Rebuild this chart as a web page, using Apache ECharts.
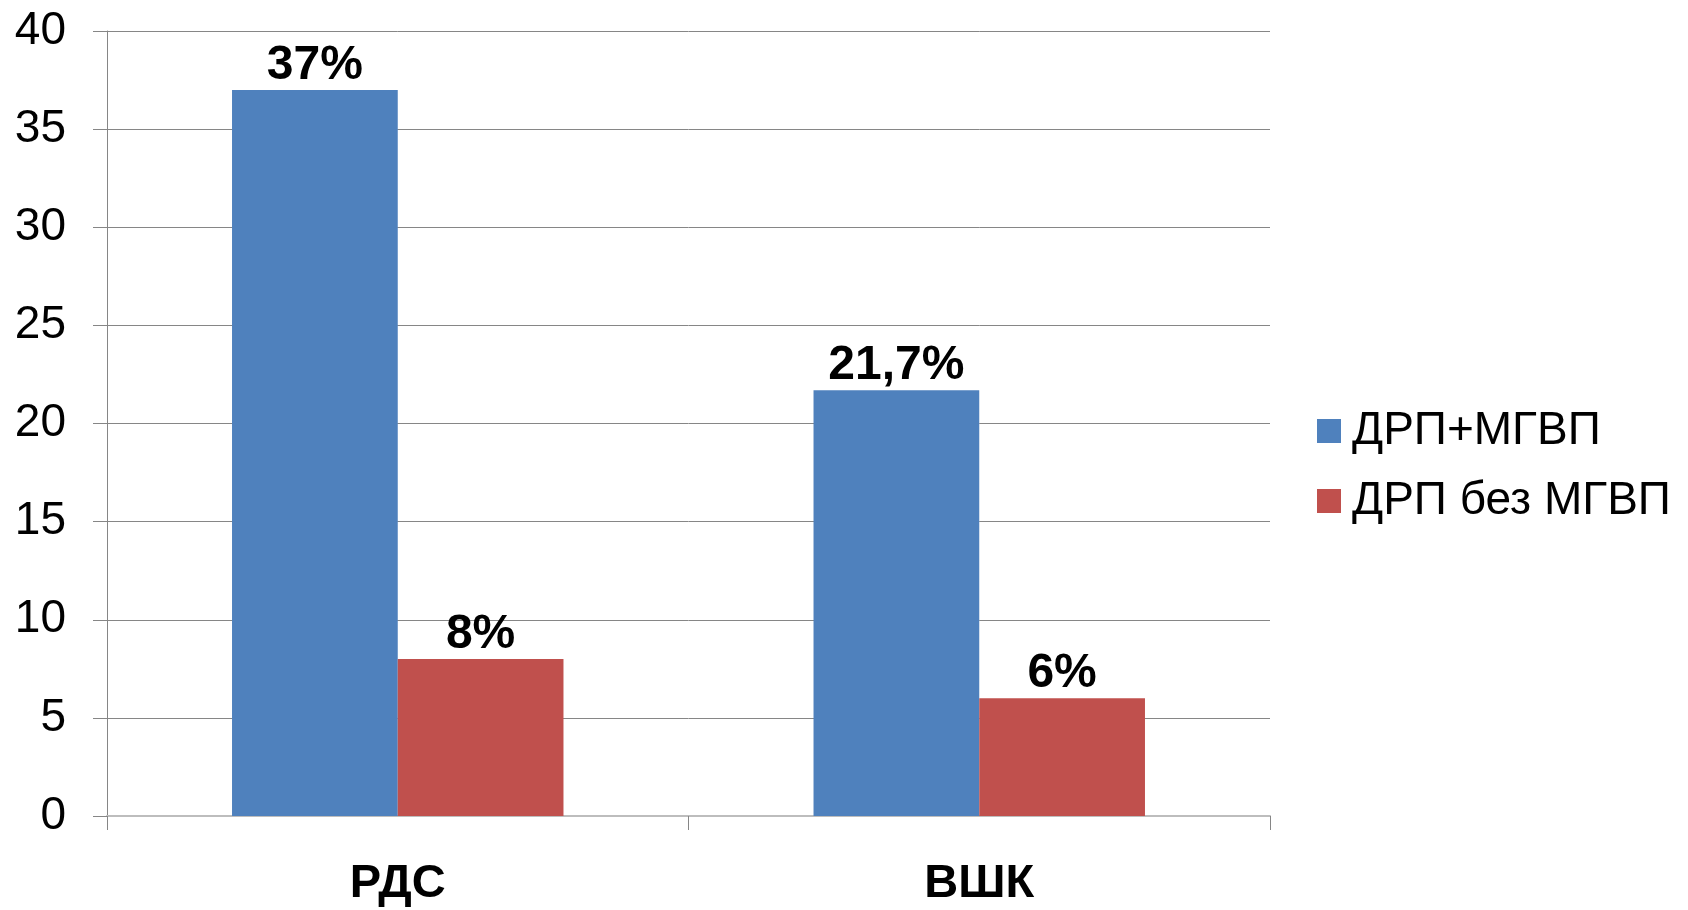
<!DOCTYPE html>
<html><head><meta charset="utf-8">
<script src="https://cdn.jsdelivr.net/npm/echarts@6/dist/echarts.min.js"></script>
<style>html,body{margin:0;padding:0;background:#fff;}#c{width:1688px;height:910px;}</style>
</head><body><div id="c"></div>
<script>
const categories = ['РДС', 'ВШК'];
const seriesNames = ['ДРП+МГВП', 'ДРП без МГВП'];
const valuesA = [37, 21.7];
const valuesB = [8, 6];
const labelsA = ['37%', '21,7%'];
const labelsB = ['8%', '6%'];
const yTicks = [0, 5, 10, 15, 20, 25, 30, 35, 40];

const chart = echarts.init(document.getElementById('c'));
const font = '"Liberation Sans", Arial, sans-serif';
const lbl = (arr) => ({
  show: true, position: 'top', distance: 0,
  fontFamily: font, fontSize: 48, fontWeight: 'bold', color: '#000',
  formatter: p => arr[p.dataIndex]
});
chart.setOption({
  animation: false,
  backgroundColor: '#fff',
  grid: { left: 107, right: 418, top: 31, bottom: 94 },
  legend: {
    orient: 'vertical', left: 1317, top: 407, padding: 0,
    icon: 'rect', itemWidth: 24, itemHeight: 24, itemGap: 22,
    textStyle: { fontFamily: font, fontSize: 46, color: '#000', lineHeight: 48, padding: [0,0,0,6] },
    data: seriesNames
  },
  xAxis: {
    type: 'category', data: categories,
    axisLine: { show: true, lineStyle: { color: '#bdbdbd', width: 2 } },
    axisTick: { show: true, length: 14, lineStyle: { color: '#868686' } },
    axisLabel: { fontFamily: font, fontSize: 47, fontWeight: 'bold', color: '#000', margin: 45 }
  },
  yAxis: {
    type: 'value', min: 0, max: 40, interval: 5,
    axisLine: { show: true, lineStyle: { color: '#868686' } },
    axisTick: { show: true, length: 14, lineStyle: { color: '#868686' } },
    splitLine: { lineStyle: { color: '#868686' } },
    axisLabel: { fontFamily: font, fontSize: 46, color: '#000', margin: 41,
      formatter: v => yTicks.includes(v) ? String(v) : '' }
  },
  series: [
    { name: seriesNames[0], type: 'bar', data: valuesA, barWidth: '28.5%', barGap: '0%',
      itemStyle: { color: '#4F81BD' }, label: lbl(labelsA) },
    { name: seriesNames[1], type: 'bar', data: valuesB, barWidth: '28.5%', barGap: '0%',
      itemStyle: { color: '#C0504D' }, label: lbl(labelsB) }
  ]
});
</script></body></html>
